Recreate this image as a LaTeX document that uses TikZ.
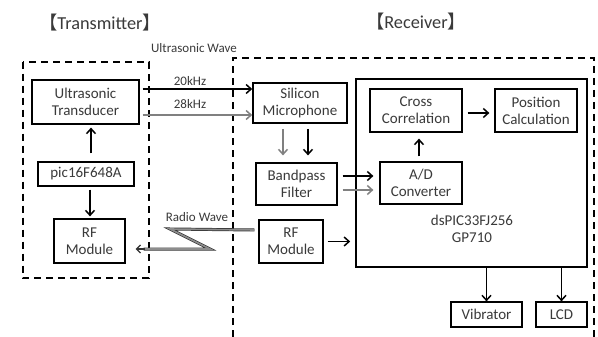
\documentclass[tikz,border=0pt]{standalone}
\usepackage{fontspec}
\setmainfont{Carlito}
\newfontfamily\cjkfont{Noto Sans CJK SC}
\usetikzlibrary{arrows.meta}
\definecolor{txt}{HTML}{3A3A3A}
\definecolor{garr}{HTML}{808080}
\begin{document}
\begin{tikzpicture}[x=1pt,y=-1pt,
  box/.style={draw=black, line width=1.2pt, align=center, inner sep=0pt, text=txt, font=\fontsize{15}{17}\selectfont},
  lbl/.style={text=txt, inner sep=0pt, font=\fontsize{13}{15}\selectfont},
  ttl/.style={text=txt, inner sep=0pt, font=\fontsize{18.3}{22}\selectfont},
  dashbox/.style={draw=black, line width=1.8pt, dash pattern=on 7pt off 5pt},
  barr/.style={draw=black, line width=1.5pt, -{Straight Barb[length=5pt,width=9pt,line width=1.5pt]}},
  garrow/.style={draw=garr, line width=1.5pt, -{Straight Barb[length=5pt,width=9pt,line width=1.5pt]}},
  radio/.style={draw=black!80, line width=0.7pt, double=black!45, double distance=1.6pt}
]
\useasboundingbox (0,0) rectangle (598,337);
\fill[white] (0,0) rectangle (598,337);

% titles
\node[ttl] (ttx) at (100,23) {{\cjkfont 【}Transmitter{\cjkfont 】}};
\node[ttl] (trx) at (416,22) {{\cjkfont 【}Receiver{\cjkfont 】}};

% dashed groups
\draw[dashbox] (22.7,61.7) rectangle (149,278);
\draw[dashbox] (233,337) -- (233,58) -- (594,58) -- (594,337);

% transmitter boxes
\node[box, minimum width=107pt, minimum height=44pt] (ut) at (85.5,102) {Ultrasonic\\Transducer};
\node[box, minimum width=96pt, minimum height=24pt] (pic) at (86,174) {pic16F648A};
\node[box, minimum width=71pt, minimum height=44pt] (rft) at (89.5,241) {RF\\Module};

% receiver boxes
\node[box, line width=1.6pt, minimum width=94pt, minimum height=40pt] (sm) at (300,103) {Silicon\\Microphone};
\node[box, minimum width=81pt, minimum height=42pt] (bp) at (296.5,184) {Bandpass\\Filter};
\node[box, minimum width=64pt, minimum height=43pt] (rfr) at (291,241.5) {RF\\Module};
\node[box, line width=1.6pt, minimum width=231pt, minimum height=188pt] (ds) at (471.5,173) {};
\node[box, draw=none] (dst) at (472,229) {dsPIC33FJ256\\GP710};
\node[box, minimum width=82pt, minimum height=42pt] (ad) at (421,183) {A/D\\Converter};
\node[box, minimum width=92pt, minimum height=43pt] (cc) at (416,110.5) {Cross\\Correlation};
\node[box, minimum width=82pt, minimum height=43pt] (pc) at (536,110.5) {Position\\Calculation};
\node[box, minimum width=71pt, minimum height=25pt] (vib) at (486.5,314.5) {Vibrator};
\node[box, minimum width=51pt, minimum height=25pt] (lcd) at (561.5,314.5) {LCD};

% labels
\node[lbl] (uw) at (194,48) {Ultrasonic Wave};
\node[lbl] (k20) at (190,81) {20kHz};
\node[lbl] (k28) at (190,104) {28kHz};
\node[lbl] (rw) at (197,217) {Radio Wave};

% ultrasonic arrows
\draw[barr, shorten <=3pt] ([yshift=13pt]ut.east) -- ([yshift=14pt]sm.west);
\draw[garrow, shorten <=3pt] ([yshift=-13pt]ut.east) -- ([yshift=-12pt]sm.west);

% transmitter internal
\draw[barr, shorten <=8pt, shorten >=3pt] ([xshift=5pt]pic.north) -- ([xshift=5pt]pic.north |- ut.south);
\draw[barr, shorten <=3pt, shorten >=2pt] ([xshift=4pt]pic.south) -- ([xshift=4pt]pic.south |- rft.north);

% receiver internal
\draw[garrow, shorten <=5pt, shorten >=7pt] ([xshift=-17pt]sm.south) -- ([xshift=-17pt]sm.south |- bp.north);
\draw[barr, shorten <=5pt, shorten >=7pt] ([xshift=8pt]sm.south) -- ([xshift=8pt]sm.south |- bp.north);
\draw[barr, shorten <=5pt, shorten >=6pt] ([yshift=8pt]bp.east) -- ([yshift=8pt]bp.east -| ad.west);
\draw[garrow, shorten <=5pt, shorten >=6pt] ([yshift=-6pt]bp.east) -- ([yshift=-6pt]bp.east -| ad.west);
\draw[barr, shorten <=5pt, shorten >=6pt] ([xshift=-2pt]ad.north) -- ([xshift=-2pt]ad.north |- cc.south);
\draw[barr, shorten <=5pt, shorten >=5pt] ([yshift=-2.5pt]cc.east) -- ([yshift=-2.5pt]cc.east -| pc.west);
\draw[barr, shorten <=4pt, shorten >=5pt] (rfr.east) -- (rfr.east -| ds.west);
\draw[barr] (vib.north |- ds.south) -- (vib.north);
\draw[barr] (lcd.north |- ds.south) -- (lcd.north);

% radio wave
\coordinate (r0) at ([xshift=-4pt,yshift=11.5pt]rfr.west);
\coordinate (r1) at (170,229);
\coordinate (r2) at (210,249);
\coordinate (r3) at ([xshift=18pt,yshift=-8pt]rft.east);
\coordinate (r4) at ([xshift=10pt,yshift=-8pt]rft.east);
\draw[radio] (r0) -- (r1) -- (r2) -- (r3);
\draw[draw=black!80, line width=1.3pt, -{Straight Barb[length=4pt,width=8pt,line width=1.3pt]}] ([xshift=1pt]r3) -- (r4);
\end{tikzpicture}
\end{document}
